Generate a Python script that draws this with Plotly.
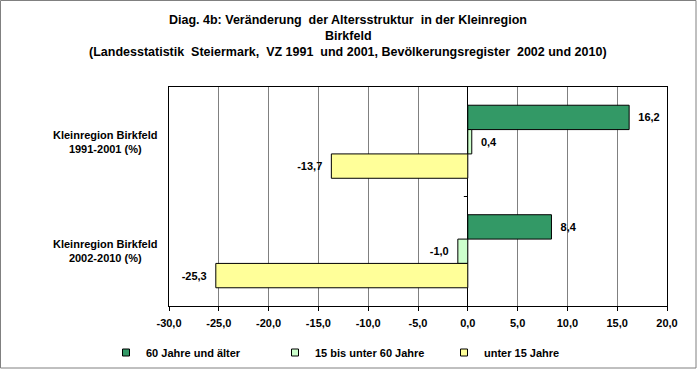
import plotly.graph_objects as go

categories = ["Kleinregion Birkfeld<br>1991-2001 (%)", "Kleinregion Birkfeld<br>2002-2010 (%)"]
series_names = ["60 Jahre und älter", "15 bis unter 60 Jahre", "unter 15 Jahre"]
values_60plus = [16.2, 8.4]
values_15to60 = [0.4, -1.0]
values_under15 = [-13.7, -25.3]
tick_vals = [-30, -25, -20, -15, -10, -5, 0, 5, 10, 15, 20]
tick_labels = ["-30,0", "-25,0", "-20,0", "-15,0", "-10,0", "-5,0", "0,0", "5,0", "10,0", "15,0", "20,0"]
title_lines = [
    "Diag. 4b: Veränderung  der Altersstruktur  in der Kleinregion",
    "Birkfeld",
    "(Landesstatistik  Steiermark,  VZ 1991  und 2001, Bevölkerungsregister  2002 und 2010)",
]

colors = ["#339966", "#CCFFCC", "#FFFF99"]
FONT = "Liberation Sans, Arial, Helvetica, sans-serif"
BOLD11 = dict(family=FONT, size=11, color="black", weight="bold")

def fmt(v):
    s = ("%.1f" % v).replace(".", ",")
    return "\u00a0\u00a0" + s + "\u00a0\u00a0"

fig = go.Figure()
for name, vals, col in zip(series_names, [values_60plus, values_15to60, values_under15], colors):
    fig.add_trace(go.Bar(
        y=list(range(len(categories))), x=vals, name=name, orientation="h",
        marker=dict(color=col, line=dict(color="black", width=1)),
        text=[fmt(v) for v in vals], textposition="outside",
        textfont=BOLD11, constraintext="none", cliponaxis=False,
        showlegend=False,
    ))
# legend entries with small square markers
for name, col in zip(series_names, colors):
    fig.add_trace(go.Scatter(
        x=[None], y=[None], mode="markers", name=name,
        marker=dict(symbol="square", size=7, color=col, line=dict(color="black", width=1)),
        showlegend=True,
    ))

W, H = 697, 372
L, R, T, B = 169, 30, 87, 66
pw, ph = W - L - R, H - T - B

def px_x(px):
    return (px - L) / pw

def px_y(py):
    return (H - B - py) / ph

fig.update_layout(
    width=W, height=H,
    margin=dict(l=L, r=R, t=T, b=B, autoexpand=False),
    paper_bgcolor="white", plot_bgcolor="white",
    barmode="group", bargap=0.333, bargroupgap=0,
    font=BOLD11,
    showlegend=True,
    legend=dict(
        orientation="h", x=px_x(106), xanchor="left", y=px_y(338), yanchor="top",
        font=BOLD11, entrywidth=124, entrywidthmode="pixels", itemwidth=30,
        bgcolor="rgba(0,0,0,0)", traceorder="normal",
    ),
    xaxis=dict(
        range=[-30, 20], tickvals=tick_vals, ticktext=tick_labels,
        showgrid=True, gridcolor="#808080", gridwidth=1,
        zeroline=True, zerolinecolor="black", zerolinewidth=1,
        showline=True, linecolor="black", linewidth=1, mirror=True,
        ticks="outside", ticklen=4, tickcolor="black", ticklabelstandoff=3,
        tickfont=BOLD11, fixedrange=True,
    ),
    yaxis=dict(
        range=[1.5, -0.5], showticklabels=False, showgrid=False, zeroline=False,
        showline=True, linecolor="black", linewidth=1, mirror=True,
        ticks="", fixedrange=True,
    ),
    shapes=[
        dict(type="rect", xref="paper", yref="paper",
             x0=px_x(0.5), x1=px_x(696), y0=px_y(368), y1=px_y(0.5),
             line=dict(color="#808080", width=1), fillcolor="rgba(0,0,0,0)", layer="below"),
        dict(type="line", xref="x", yref="y", x0=-0.4, x1=0, y0=0.5, y1=0.5,
             line=dict(color="black", width=1)),
    ],
)

for py, line in zip([20, 36, 52], title_lines):
    fig.add_annotation(
        x=px_x(348), xref="paper", y=px_y(py), yref="paper", text=line, showarrow=False,
        xanchor="center", yanchor="middle",
        font=dict(family=FONT, size=12.5, color="black", weight="bold"),
    )

for i, cat in enumerate(categories):
    fig.add_annotation(
        x=px_x(105), xref="paper", y=i, yref="y", text=cat, showarrow=False,
        xanchor="center", yanchor="middle", align="center", font=BOLD11,
    )

fig.write_html(
    "out.html",
    config={"displayModeBar": False},
    post_script="document.body.style.margin='0';document.body.style.padding='0';",
)
